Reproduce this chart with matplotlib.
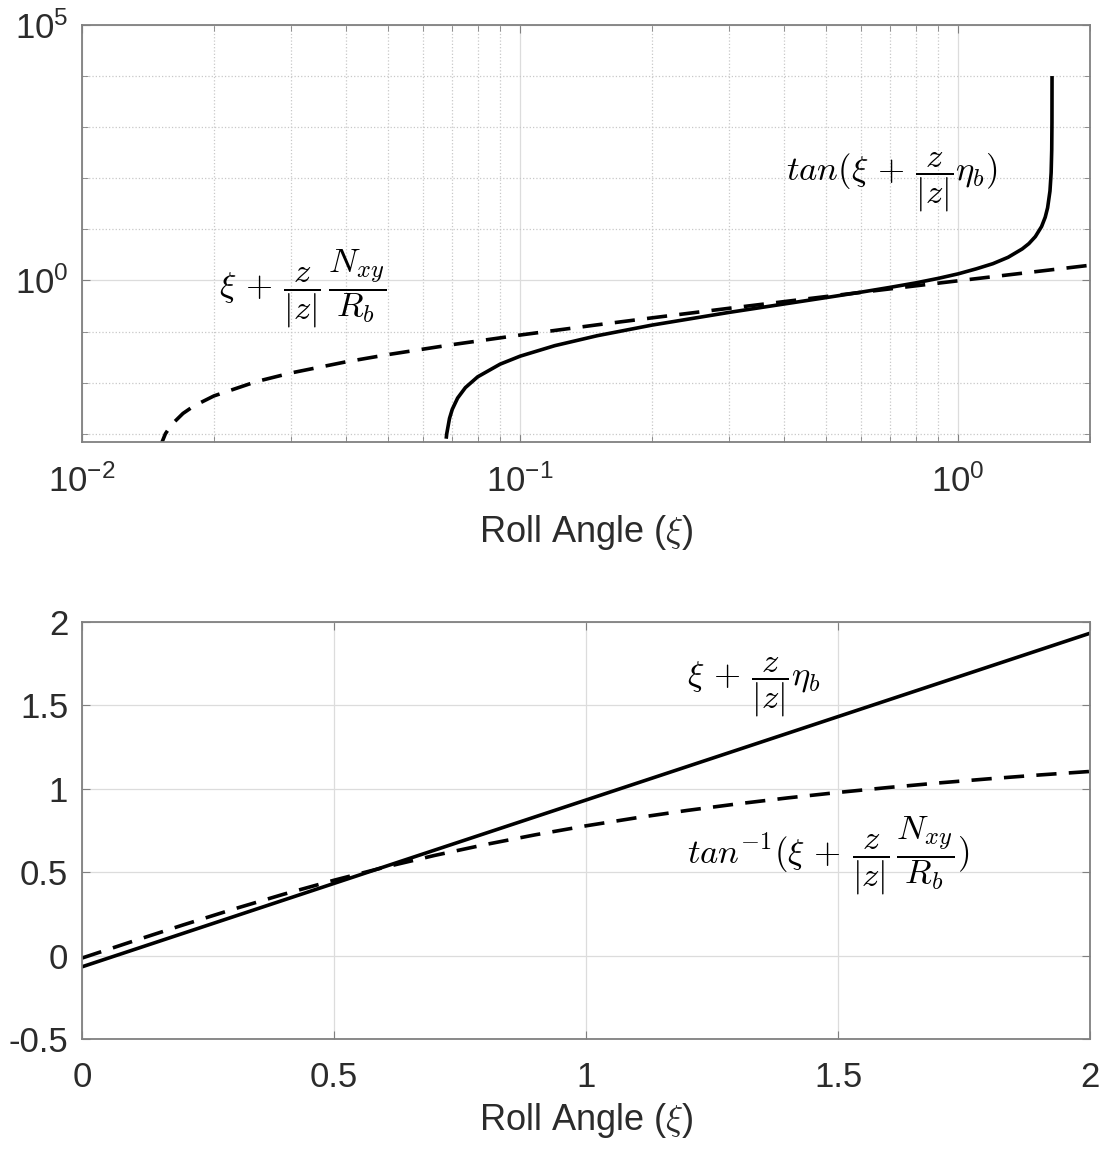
import matplotlib
matplotlib.use('Agg')
import matplotlib.pyplot as plt
from matplotlib.ticker import NullFormatter

plt.rcParams['font.family'] = ['Liberation Sans', 'DejaVu Sans']
plt.rcParams['mathtext.fontset'] = 'cm'
plt.rcParams['axes.unicode_minus'] = False

# ---- top panel (log-log) ----
xi_dash_top = [0.015, 0.0155, 0.016, 0.017, 0.018, 0.02, 0.025, 0.03, 0.04, 0.05,
               0.07, 0.1, 0.15, 0.2, 0.3, 0.5, 0.7, 1.0, 1.5, 2.0]
val_dash_top = [0.0005, 0.001, 0.0015, 0.0025, 0.0035, 0.0055, 0.0105, 0.0155, 0.0255, 0.0355,
                0.0555, 0.0855, 0.1355, 0.1855, 0.2855, 0.4855, 0.6855, 0.9855, 1.4855, 1.9855]

xi_tan_top = [0.0678, 0.068, 0.069, 0.07, 0.072, 0.075, 0.08, 0.09, 0.1, 0.12, 0.15,
              0.2, 0.3, 0.4, 0.5, 0.6, 0.7, 0.8, 0.9, 1.0, 1.1, 1.2, 1.3, 1.4,
              1.45, 1.5, 1.55, 1.58, 1.6, 1.62, 1.63, 1.635, 1.637, 1.6377]
val_tan_top = [0.0008, 0.001, 0.002, 0.003, 0.005, 0.008, 0.013, 0.023, 0.033, 0.053, 0.083,
               0.1338, 0.2373, 0.3458, 0.4627, 0.5902, 0.734, 0.8967, 1.098, 1.348, 1.69, 2.13, 2.84, 4.14,
               5.26, 7.21, 11.36, 17.28, 26.45, 56.2, 128, 357, 1250, 10000]

# ---- bottom panel (linear) ----
xi_line_bot = [0.0, 1.0, 2.0]
val_line_bot = [-0.067, 0.933, 1.933]

xi_atan_bot = [0.0, 0.1, 0.2, 0.3, 0.4, 0.5, 0.6, 0.7, 0.8, 0.9, 1.0,
               1.1, 1.2, 1.3, 1.4, 1.5, 1.6, 1.7, 1.8, 1.9, 2.0]
val_atan_bot = [-0.0145, 0.0853, 0.1834, 0.2782, 0.3681, 0.4520, 0.5297, 0.6010, 0.6659, 0.7248, 0.7782,
                0.8264, 0.8702, 0.9097, 0.9456, 0.9783, 1.0081, 1.0354, 1.0603, 1.0832, 1.1042]

y_ticks_bot = [-0.5, 0, 0.5, 1, 1.5, 2]
x_ticks_bot = [0, 0.5, 1, 1.5, 2]
y_ticklabels_bot = ['-0.5', '0', '0.5', '1', '1.5', '2']
x_ticklabels_bot = ['0', '0.5', '1', '1.5', '2']

spine_col = '#808080'
text_col = '#2b2b2b'
lw = 2.6
dash = (5.6, 3.4)

fig = plt.figure(figsize=(11.07, 11.5), dpi=100)
fig.patch.set_facecolor('white')

def style_axes(ax):
    for s in ax.spines.values():
        s.set_color(spine_col)
        s.set_linewidth(1.3)
    ax.tick_params(which='both', direction='in', top=True, right=True,
                   color=spine_col, labelcolor=text_col, labelsize=25)
    ax.tick_params(which='major', length=6)
    ax.tick_params(which='minor', length=4)
    ax.tick_params(axis='x', pad=16)
    ax.tick_params(axis='y', pad=10)
    ax.set_axisbelow(True)

# ========================================
# TOP : log-log
# ========================================
ax1 = fig.add_axes([0.0741, 0.6157, 0.9106, 0.3626])
ax1.plot(xi_tan_top, val_tan_top, color='black', linewidth=lw, solid_capstyle='butt')
ax1.plot(xi_dash_top, val_dash_top, color='black', linewidth=lw, linestyle=(0, dash))
ax1.set_xscale('log')
ax1.set_yscale('log')
ax1.set_xlim(0.01, 2)
ax1.set_ylim(10 ** -3.16, 1e5)
ax1.set_yticks([1e0, 1e5])
ax1.set_yticks([1e-3, 1e-2, 1e-1, 1e1, 1e2, 1e3, 1e4], minor=True)
ax1.xaxis.set_minor_formatter(NullFormatter())
ax1.yaxis.set_minor_formatter(NullFormatter())
ax1.grid(True, which='major', color='#dcdcdc', linestyle='-', linewidth=0.9)
ax1.grid(True, which='minor', color='#c8c8c8', linestyle=':', linewidth=0.9)
style_axes(ax1)
ax1.set_xlabel(r'Roll Angle ($\xi$)', fontsize=26, color=text_col, labelpad=10)

ax1.text(0.405, 85, r'$tan(\xi \,+\, \dfrac{z}{|z|}\eta_b)$', fontsize=25,
         ha='left', va='center')
ax1.text(0.0205, 0.7, r'$\xi \,+\, \dfrac{z}{|z|}\,\dfrac{N_{xy}}{R_b}$', fontsize=25,
         ha='left', va='center')

# ========================================
# BOTTOM : linear
# ========================================
ax2 = fig.add_axes([0.0741, 0.0965, 0.9106, 0.3626])
ax2.plot(xi_line_bot, val_line_bot, color='black', linewidth=lw)
ax2.plot(xi_atan_bot, val_atan_bot, color='black', linewidth=lw, linestyle=(0, dash))
ax2.set_xlim(0, 2)
ax2.set_ylim(-0.5, 2)
ax2.set_xticks(x_ticks_bot)
ax2.set_yticks(y_ticks_bot)
ax2.set_xticklabels(x_ticklabels_bot)
ax2.set_yticklabels(y_ticklabels_bot)
ax2.grid(True, which='major', color='#dcdcdc', linestyle='-', linewidth=0.9)
style_axes(ax2)
ax2.set_xlabel(r'Roll Angle ($\xi$)', fontsize=26, color=text_col, labelpad=5)

ax2.text(1.2, 1.608, r'$\xi \,+\, \dfrac{z}{|z|}\eta_b$', fontsize=25,
         ha='left', va='center')
ax2.text(1.2, 0.598, r'$tan^{-1}(\xi \,+\, \dfrac{z}{|z|}\,\dfrac{N_{xy}}{R_b})$', fontsize=25,
         ha='left', va='center')

plt.savefig('out.png', dpi=100)
